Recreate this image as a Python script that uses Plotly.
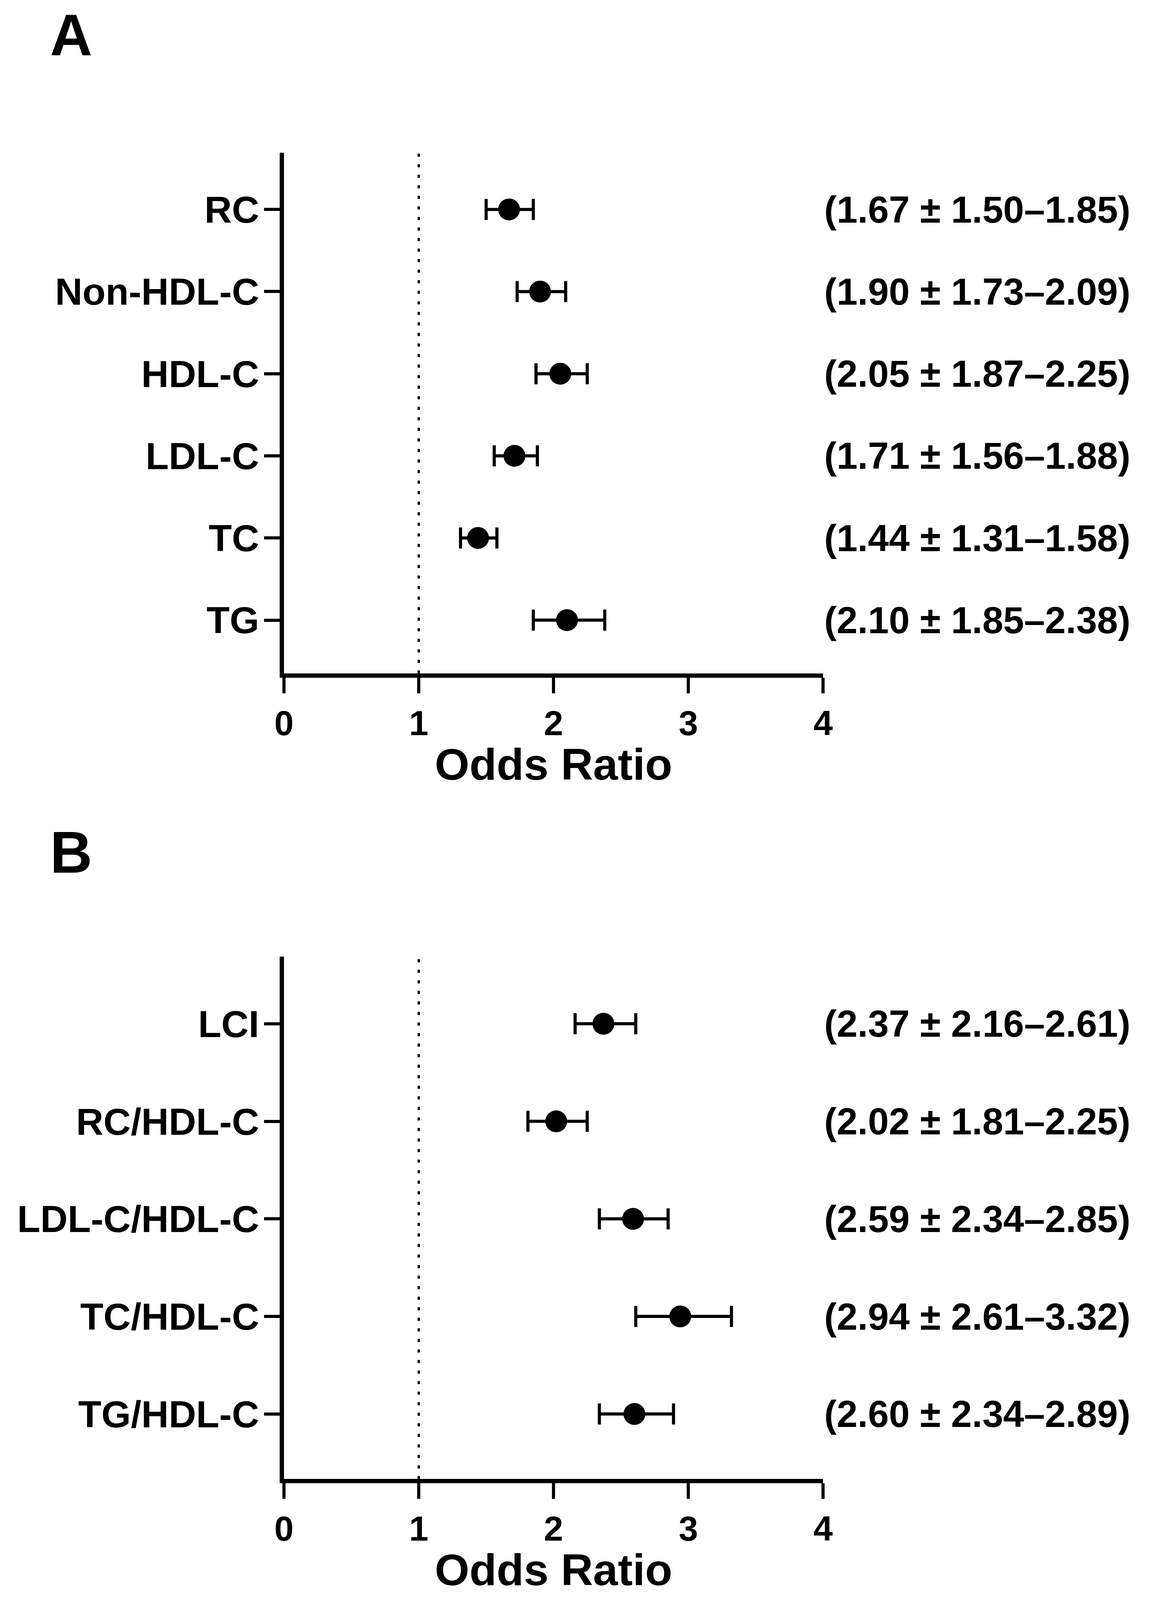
import plotly.graph_objects as go

# ---------------- data ----------------
cats_a = ["RC", "Non-HDL-C", "HDL-C", "LDL-C", "TC", "TG"]
or_a = [1.67, 1.90, 2.05, 1.71, 1.44, 2.10]
lo_a = [1.50, 1.73, 1.87, 1.56, 1.31, 1.85]
hi_a = [1.85, 2.09, 2.25, 1.88, 1.58, 2.38]

cats_b = ["LCI", "RC/HDL-C", "LDL-C/HDL-C", "TC/HDL-C", "TG/HDL-C"]
or_b = [2.37, 2.02, 2.59, 2.94, 2.60]
lo_b = [2.16, 1.81, 2.34, 2.61, 2.34]
hi_b = [2.61, 2.25, 2.85, 3.32, 2.89]

x_ticks = [0, 1, 2, 3, 4]
panel_labels = ["A", "B"]
x_title = "Odds Ratio"
ref_value = 1

# ---------------- layout geometry (reference pixels) ----------------
W, H = 2962, 4326
FONT = "Arial, Liberation Sans, sans-serif"


def px_x(p):
    return p / W


def px_y(p):
    return 1 - p / H


x_left, x_right = 714, 2118
panels = [
    dict(top=413, bottom=1821, rng=[-0.65, 5.69], letter_y=94, title_y=2066),
    dict(top=2586, bottom=3999, rng=[-0.667, 4.69], letter_y=2304, title_y=4244),
]

fig = go.Figure()

datasets = [(cats_a, or_a, lo_a, hi_a), (cats_b, or_b, lo_b, hi_b)]

for i, ((cats, ors, los, his), pan) in enumerate(zip(datasets, panels)):
    xa = "x" if i == 0 else "x2"
    ya = "y" if i == 0 else "y2"
    fig.add_trace(go.Scatter(
        x=ors, y=cats, mode="markers",
        marker=dict(symbol="circle", size=56, color="black"),
        error_x=dict(type="data", symmetric=False,
                     array=[h - o for h, o in zip(his, ors)],
                     arrayminus=[o - l for o, l in zip(ors, los)],
                     color="black", thickness=8, width=27),
        xaxis=xa, yaxis=ya, showlegend=False, hoverinfo="skip",
    ))
    # reference dotted line at OR = 1
    fig.add_shape(type="line", xref=xa, yref=f"{ya} domain",
                  x0=ref_value, x1=ref_value, y0=0, y1=1,
                  line=dict(color="black", width=6, dash="8px,19px"))
    # right-hand text
    for c, o, l, h in zip(cats, ors, los, his):
        fig.add_annotation(
            x=px_x(2920), xref="paper", y=c, yref=ya,
            text=f"({o:.2f} ± {l:.2f}–{h:.2f})",
            xanchor="right", yanchor="middle", showarrow=False,
            font=dict(family=FONT, size=96, color="black", weight="bold"),
        )
    # panel letter
    fig.add_annotation(
        x=px_x(160), y=px_y(pan["letter_y"]), xref="paper", yref="paper",
        text=panel_labels[i], xanchor="center", yanchor="middle", showarrow=False,
        font=dict(family=FONT, size=150, color="black", weight="bold"),
    )
    # x title
    fig.add_annotation(
        x=px_x((x_left + x_right) / 2), y=px_y(pan["title_y"]),
        xref="paper", yref="paper", text=x_title,
        xanchor="center", yanchor="middle", showarrow=False,
        font=dict(family=FONT, size=114, color="black", weight="bold"),
    )

axis_common = dict(showline=True, linecolor="black", linewidth=11,
                   ticks="outside", ticklen=40, tickwidth=8, tickcolor="black",
                   showgrid=False, zeroline=False, mirror=False)

for i, pan in enumerate(panels):
    cats = datasets[i][0]
    xkey = "xaxis" if i == 0 else "xaxis2"
    ykey = "yaxis" if i == 0 else "yaxis2"
    yanchor = "y" if i == 0 else "y2"
    xanchor = "x" if i == 0 else "x2"
    fig.update_layout(**{
        xkey: dict(domain=[px_x(x_left), px_x(x_right)], range=[0, 4],
                   tickmode="array", tickvals=x_ticks,
                   ticktext=[str(t) for t in x_ticks],
                   anchor=yanchor,
                   tickfont=dict(family=FONT, size=89, color="black", weight="bold"),
                   **axis_common),
        ykey: dict(domain=[px_y(pan["bottom"]), px_y(pan["top"])],
                   type="category", categoryorder="array",
                   categoryarray=list(reversed(cats)),
                   range=pan["rng"], anchor=xanchor, ticklabelstandoff=-7,
                   tickfont=dict(family=FONT, size=97, color="black", weight="bold"),
                   **axis_common),
    })

fig.update_layout(autosize=True, margin=dict(l=0, r=0, t=0, b=0),
                  paper_bgcolor="white", plot_bgcolor="white")

post = (
    "document.documentElement.style.margin='0';"
    "document.documentElement.style.overflow='hidden';"
    "document.body.style.margin='0';"
    "document.body.style.overflow='hidden';"
    "var gd=document.getElementById('{plot_id}');"
    "gd.style.width='100vw';gd.style.height='100vh';"
    "Plotly.Plots.resize(gd);"
)

fig.write_html("out.html", default_width="100vw", default_height="100vh",
               config={"responsive": True, "displayModeBar": False},
               post_script=post)
